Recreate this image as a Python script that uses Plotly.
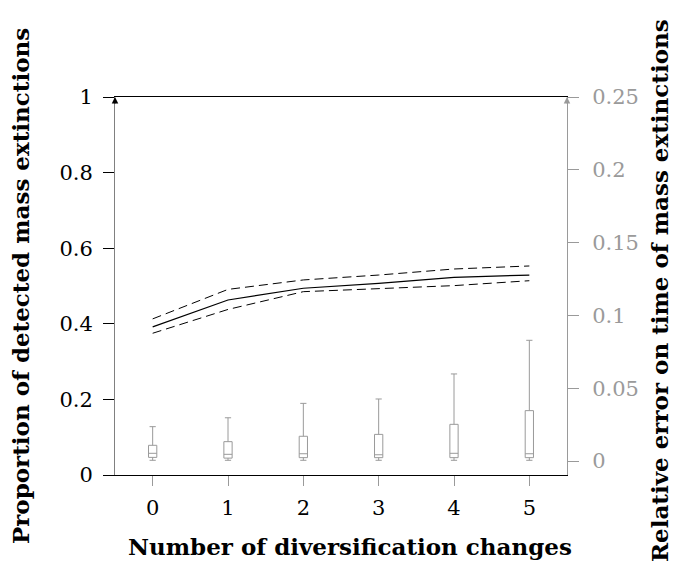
import plotly.graph_objects as go

# Number of diversification changes
changes = [0, 1, 2, 3, 4, 5]

# Proportion of detected mass extinctions (mean and bounds)
prop_mean = [0.392, 0.463, 0.494, 0.507, 0.523, 0.529]
prop_upper = [0.413, 0.491, 0.516, 0.529, 0.545, 0.553]
prop_lower = [0.375, 0.438, 0.485, 0.492, 0.501, 0.514]

# Relative error on time of mass extinctions (box summaries)
err_low = [0.0005, 0.0005, 0.0005, 0.0005, 0.0005, 0.0005]
err_q1 = [0.0025, 0.0020, 0.0023, 0.0023, 0.0023, 0.0023]
err_med = [0.0053, 0.0046, 0.0050, 0.0043, 0.0053, 0.0050]
err_q3 = [0.0108, 0.0133, 0.0170, 0.0183, 0.0252, 0.0346]
err_high = [0.0236, 0.0297, 0.0396, 0.0426, 0.0598, 0.0829]

left_ticks = [0, 0.2, 0.4, 0.6, 0.8, 1]
left_text = ["0", "0.2", "0.4", "0.6", "0.8", "1"]
right_ticks = [0, 0.05, 0.1, 0.15, 0.2, 0.25]
right_text = ["0", "0.05", "0.1", "0.15", "0.2", "0.25"]

FONT = "DejaVu Serif"
GREY = "#9a9a9a"

fig = go.Figure()

fig.add_trace(go.Box(
    x=changes, q1=err_q1, median=err_med, q3=err_q3,
    lowerfence=err_low, upperfence=err_high,
    yaxis="y2", width=0.11, whiskerwidth=0.75,
    line=dict(color=GREY, width=1), fillcolor="rgba(255,255,255,0)",
    boxpoints=False, showlegend=False,
))

for vals, dash, w in [(prop_upper, "9px,5px", 1), (prop_lower, "9px,5px", 1),
                      (prop_mean, "solid", 1.2)]:
    fig.add_trace(go.Scatter(
        x=changes, y=vals, mode="lines",
        line=dict(color="black", width=w, dash=dash), showlegend=False,
    ))

fig.update_layout(
    width=680, height=569,
    margin=dict(l=115, r=113, t=97, b=94),
    paper_bgcolor="white", plot_bgcolor="white",
    font=dict(family=FONT, size=21, color="black"),
    xaxis=dict(
        range=[-0.5, 5.5], tickvals=changes, ticktext=[str(c) for c in changes],
        showline=True, linecolor="black", linewidth=1, mirror=True,
        ticks="outside", ticklen=10, tickcolor=GREY, tickwidth=1,
        showgrid=False, zeroline=False, ticklabelstandoff=4,
    ),
    yaxis=dict(
        range=[0, 1], tickvals=left_ticks, ticktext=left_text,
        showline=True, linecolor="#808080", linewidth=1,
        ticks="outside", ticklen=11, tickcolor="black", tickwidth=1,
        showgrid=False, zeroline=False, ticklabelstandoff=6,
    ),
    yaxis2=dict(
        range=[-0.0096, 0.25], overlaying="y", side="right",
        tickvals=right_ticks, ticktext=right_text,
        showline=True, linecolor=GREY, linewidth=1,
        ticks="outside", ticklen=11, tickcolor=GREY, tickwidth=1,
        tickfont=dict(color=GREY, size=21, family=FONT),
        showgrid=False, zeroline=False, ticklabelstandoff=9,
    ),
)

# Axis titles
fig.add_annotation(text="<b>Number of diversification changes</b>", xref="paper", yref="paper",
                   x=0.52, y=-0.19, showarrow=False, xanchor="center", yanchor="middle",
                   font=dict(size=23, family=FONT))
fig.add_annotation(text="<b>Proportion of detected mass extinctions</b>", xref="paper", yref="paper",
                   x=-0.21, y=0.5, showarrow=False, textangle=-90, xanchor="center",
                   yanchor="middle", font=dict(size=23, family=FONT))
fig.add_annotation(text="<b>Relative error on time of mass extinctions</b>", xref="paper", yref="paper",
                   x=1.206, y=0.487, showarrow=False, textangle=-90, xanchor="center",
                   yanchor="middle", font=dict(size=23, family=FONT))

# Arrow heads on the vertical axes
for xpos, col in [(0, "black"), (1, GREY)]:
    fig.add_annotation(x=xpos, y=1, xref="paper", yref="paper", ax=0, ay=8,
                       showarrow=True, arrowhead=2, arrowsize=1.3, arrowwidth=1,
                       arrowcolor=col, text="")

fig.write_html("out.html")
